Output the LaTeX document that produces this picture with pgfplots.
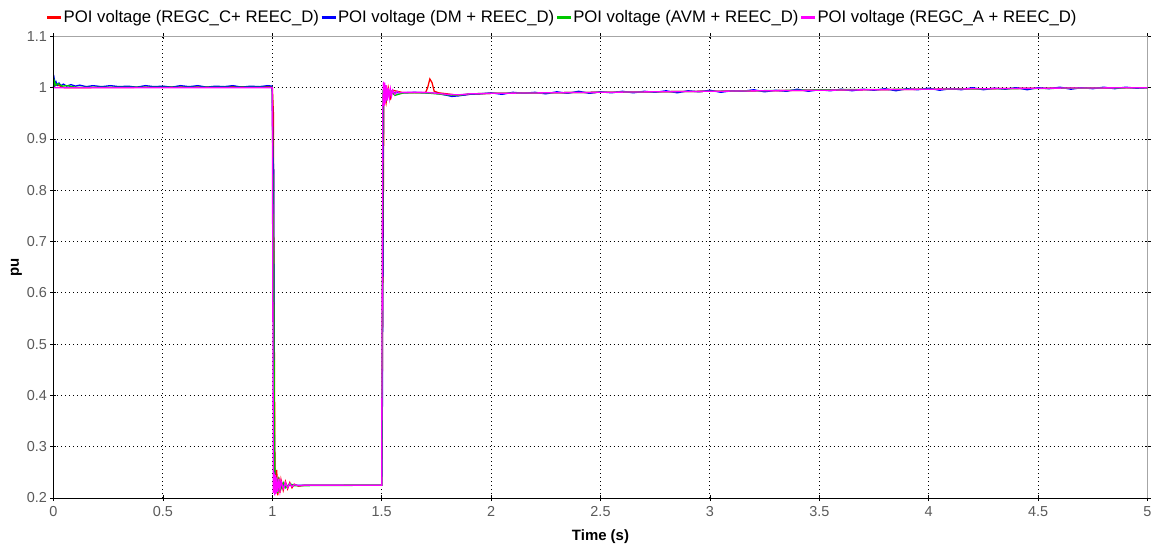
\documentclass[border=0pt]{standalone}
\usepackage{fontspec}
\setmainfont{Liberation Sans}
\usepackage{pgfplots}
\usepackage{pgfplotstable}
\pgfplotsset{compat=1.18}
\definecolor{tickgray}{RGB}{90,90,90}
\definecolor{cred}{RGB}{255,0,0}
\definecolor{cblue}{RGB}{0,0,255}
\definecolor{cgreen}{RGB}{0,200,0}
\definecolor{cmag}{RGB}{255,0,255}

\pgfplotstableread{
t v
0 1.000
0.004 1.004
0.02 1.005
0.05 1.000
0.1 1.000
0.5 1.001
0.995 1.002
1.0 1.002
1.005 0.95
1.008 0.60
1.012 0.26
1.015 0.21
1.02 0.255
1.025 0.205
1.03 0.24
1.035 0.21
1.04 0.235
1.05 0.215
1.06 0.232
1.07 0.218
1.08 0.23
1.09 0.22
1.1 0.227
1.12 0.223
1.15 0.225
1.5 0.225
1.505 0.60
1.51 0.99
1.52 0.97
1.53 1.00
1.54 0.98
1.55 0.995
1.6 0.99
1.7 0.99
1.71 1.000
1.72 1.017
1.73 1.010
1.74 0.993
1.76 0.990
1.8 0.988
1.85 0.985
1.9 0.987
2.0 0.989
2.5 0.991
3.0 0.993
3.5 0.995
4.0 0.997
4.5 0.999
5.0 1.000
}\datared

\pgfplotstableread{
t v
0.000 1.000
0.004 1.016
0.008 1.006
0.012 1.011
0.018 1.005
0.025 1.009
0.035 1.004
0.045 1.007
0.06 1.003
0.08 1.006
0.10 1.003
0.12 1.005
0.15 1.002
0.18 1.004
0.22 1.002
0.26 1.004
0.30 1.002
0.34 1.003
0.38 1.001
0.42 1.004
0.46 1.002
0.50 1.003
0.54 1.001
0.58 1.004
0.62 1.002
0.66 1.004
0.70 1.001
0.74 1.003
0.78 1.002
0.82 1.004
0.86 1.001
0.90 1.003
0.94 1.002
0.98 1.004
0.999 1.003
1.003 0.87
1.006 0.84
1.008 0.50
1.010 0.24
1.015 0.215
1.02 0.235
1.03 0.218
1.04 0.23
1.06 0.222
1.08 0.226
1.10 0.225
1.50 0.225
1.501 0.25
1.502 0.33
1.503 0.38
1.504 0.52
1.505 0.56
1.506 0.85
1.507 0.88
1.509 0.99
1.52 0.985
1.55 0.99
1.60 0.99
1.65 0.991
1.70 0.99
1.75 0.989
1.80 0.985
1.82 0.983
1.85 0.984
1.90 0.987
1.95 0.988
2.00 0.990
2.05 0.987
2.10 0.991
2.15 0.989
2.20 0.991
2.25 0.988
2.30 0.992
2.35 0.989
2.40 0.993
2.45 0.989
2.50 0.992
2.55 0.990
2.60 0.993
2.65 0.990
2.70 0.993
2.75 0.991
2.80 0.994
2.85 0.990
2.90 0.994
2.95 0.992
3.00 0.995
3.05 0.991
3.10 0.994
3.15 0.993
3.20 0.996
3.25 0.992
3.30 0.995
3.35 0.993
3.40 0.997
3.45 0.993
3.50 0.996
3.55 0.994
3.60 0.997
3.65 0.994
3.70 0.997
3.75 0.995
3.80 0.998
3.85 0.994
3.90 0.998
3.95 0.996
4.00 0.999
4.05 0.995
4.10 0.998
4.15 0.996
4.20 1.000
4.25 0.996
4.30 0.999
4.35 0.997
4.40 1.000
4.45 0.996
4.50 1.000
4.55 0.998
4.60 1.001
4.65 0.997
4.70 1.000
4.75 0.998
4.80 1.001
4.85 0.998
4.90 1.001
4.95 0.999
5.00 1.000
}\datablue

\pgfplotstableread{
t v
0 1.000
0.004 1.013
0.01 1.005
0.02 1.008
0.04 1.003
0.06 1.004
0.1 1.001
0.3 1.001
1.0 1.001
1.004 0.73
1.006 0.68
1.01 0.30
1.012 0.25
1.016 0.21
1.02 0.24
1.025 0.21
1.03 0.235
1.04 0.218
1.05 0.23
1.06 0.22
1.08 0.228
1.1 0.224
1.5 0.225
1.503 0.60
1.506 0.99
1.52 0.975
1.54 0.995
1.56 0.985
1.6 0.99
1.7 0.99
1.8 0.986
1.85 0.985
1.9 0.988
2.0 0.989
2.5 0.991
3.0 0.993
3.4 0.995
3.5 0.996
4.0 0.997
5.0 1.000
}\datagreen

\pgfplotstableread{
t v
0 1.000
1.0 1.000
1.003 0.50
1.005 0.21
1.008 0.25
1.011 0.205
1.014 0.245
1.017 0.208
1.02 0.24
1.025 0.212
1.03 0.237
1.035 0.215
1.04 0.233
1.05 0.218
1.06 0.23
1.07 0.22
1.08 0.228
1.09 0.222
1.1 0.226
1.12 0.224
1.15 0.225
1.5 0.225
1.502 0.60
1.505 0.96
1.508 1.012
1.511 0.965
1.514 1.010
1.517 0.970
1.52 1.005
1.525 0.975
1.53 1.000
1.535 0.980
1.54 0.997
1.545 0.984
1.55 0.995
1.56 0.987
1.57 0.993
1.58 0.990
1.6 0.991
1.7 0.991
1.8 0.987
1.85 0.986
1.9 0.988
2.0 0.989
2.5 0.991
3.0 0.993
3.5 0.995
4.0 0.997
4.5 0.999
5.0 1.000
}\datamag

\begin{document}
\begin{tikzpicture}
\begin{axis}[
  name=ax,
  scale only axis,
  width=1094bp, height=461.6bp,
  xmin=0, xmax=5, ymin=0.2, ymax=1.1,
  xtick={0,0.5,1,1.5,2,2.5,3,3.5,4,4.5,5},
  ytick={0.2,0.3,0.4,0.5,0.6,0.7,0.8,0.9,1,1.1},
  yticklabels={0.2,0.3,0.4,0.5,0.6,0.7,0.8,0.9,1,1.1},
  xticklabels={0,0.5,1,1.5,2,2.5,3,3.5,4,4.5,5},
  grid=major,
  grid style={black, dash pattern=on 1bp off 3bp, line width=0.9bp},
  tick align=center,
  major tick length=6bp,
  tick style={black, line width=0.7bp},
  axis line style={draw=gray!70, line width=0.6bp},
  tick label style={font=\fontsize{14.5}{16}\selectfont, text=tickgray},
  xticklabel style={yshift=-2bp},
  yticklabel style={xshift=0bp},
  xlabel={Time (s)},
  ylabel={pu},
  label style={font=\bfseries\fontsize{15}{17}\selectfont},
  xlabel style={yshift=-6bp},
  ylabel style={yshift=-2bp},
  clip=false,
  legend columns=4,
  legend style={at={(0,1)}, anchor=south west, xshift=-8bp, yshift=11bp,
    draw=none, fill=none, inner sep=0pt,
    font=\fontsize{16.8}{18}\selectfont,
    nodes={inner sep=1bp},
    /tikz/every even column/.append style={column sep=0pt}},
  legend image code/.code={\draw[#1, line width=3bp] (0bp,0bp) -- (14bp,0bp);},
  every axis plot/.append style={line width=1.3bp},
]
\addplot[cred] table[x=t,y=v] {\datared};
\addlegendentry{POI voltage (REGC\_C+ REEC\_D)}
\addplot[cblue] table[x=t,y=v] {\datablue};
\addlegendentry{POI voltage (DM + REEC\_D)}
\addplot[cgreen] table[x=t,y=v] {\datagreen};
\addlegendentry{POI voltage (AVM + REEC\_D)}
\addplot[cmag] table[x=t,y=v] {\datamag};
\addlegendentry{POI voltage (REGC\_A + REEC\_D)}
\draw[black, line width=0.9bp] (rel axis cs:0,1) -- (rel axis cs:0,0) -- (rel axis cs:1,0);
\end{axis}
\pgfresetboundingbox
\path (ax.south west) ++(-53.5bp,-46bp) rectangle ++(1156bp,544bp);
\end{tikzpicture}
\end{document}
